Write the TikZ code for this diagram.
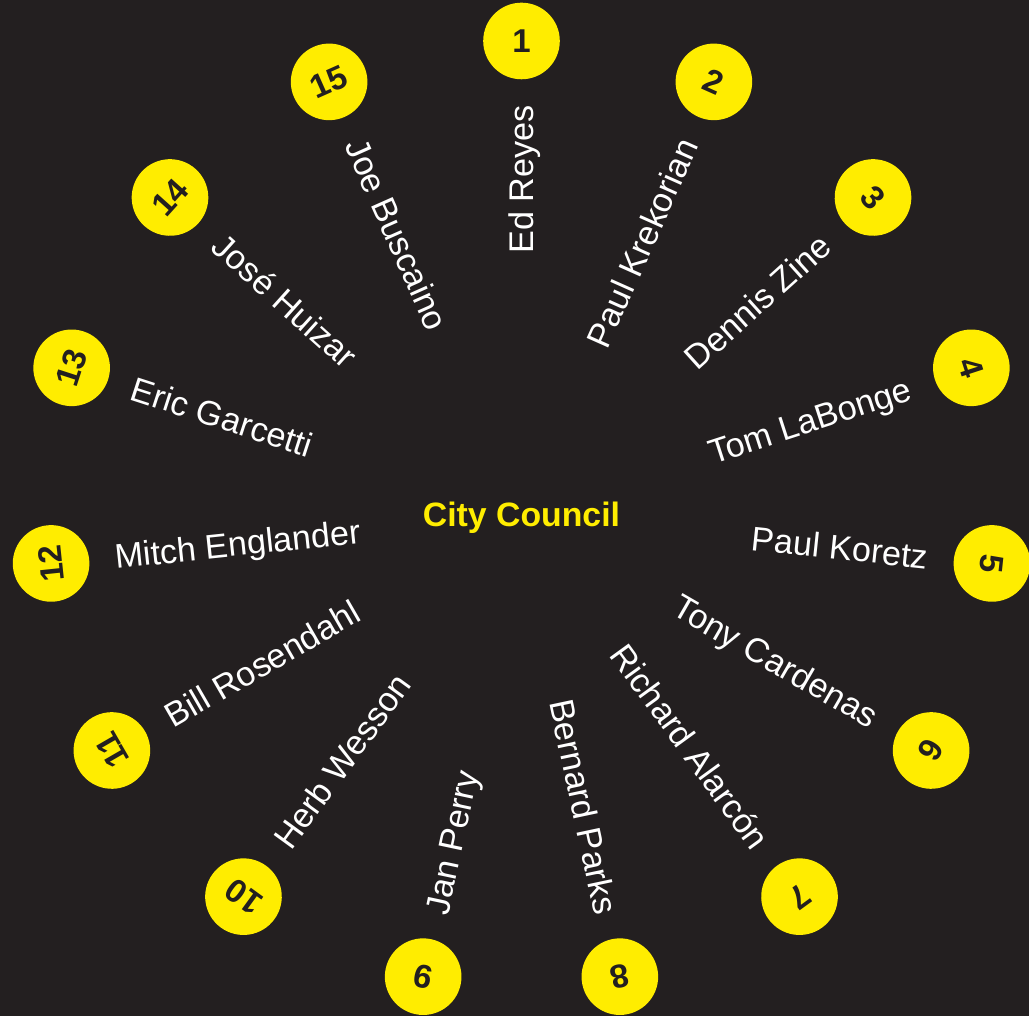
\documentclass[tikz,border=0pt]{standalone}
\usepackage{fontspec}
\setmainfont{Liberation Sans}
\usetikzlibrary{calc}
\definecolor{bgc}{HTML}{231F20}
\definecolor{yel}{HTML}{FFED00}
\tikzset{
  numcirc/.style={circle, fill=yel, minimum size=76.6pt, inner sep=0pt, text=bgc,
    font=\bfseries\fontsize{33}{33}\selectfont},
  namelbl/.style={text=white, inner sep=0pt, font=\fontsize{34.2}{35}\selectfont},
  titlelbl/.style={text=yel, inner sep=0pt, font=\bfseries\fontsize{33.8}{35}\selectfont}
}
\begin{document}
\begin{tikzpicture}[x=1pt,y=1pt]
\useasboundingbox (0,0) rectangle (1029,1016);
\fill[bgc] (0,0) rectangle (1029,1016);
\coordinate (c) at (521.5,502);
\node[titlelbl, anchor=base] (cc) at (521.5,489.3) {City Council};
\foreach \i/\nm in {1/Ed Reyes,2/Paul Krekorian,3/Dennis Zine,4/Tom LaBonge,5/Paul Koretz,6/Tony Cardenas,7/Richard Alarcón,8/Bernard Parks,9/Jan Perry,10/Herb Wesson,11/Bill Rosendahl,12/Mitch Englander,13/Eric Garcetti,14/José Huizar,15/Joe Buscaino}{
  \pgfmathsetmacro\a{90-24*(\i-1)}
  \pgfmathsetmacro\cs{cos(\a)}
  \node[numcirc, rotate=\a-90] (n\i) at ($(c)+(\a:473)$) {\i};
  \ifdim\cs pt<-0.01pt
    \node[namelbl, rotate=\a+180, anchor=base west] (t\i) at ($(c)+(\a:409)+(\a+90:12.2)$) {\nm};
  \else
    \node[namelbl, rotate=\a, anchor=base east] (t\i) at ($(c)+(\a:409)+(\a-90:12.2)$) {\nm};
  \fi
}
\end{tikzpicture}
\end{document}
